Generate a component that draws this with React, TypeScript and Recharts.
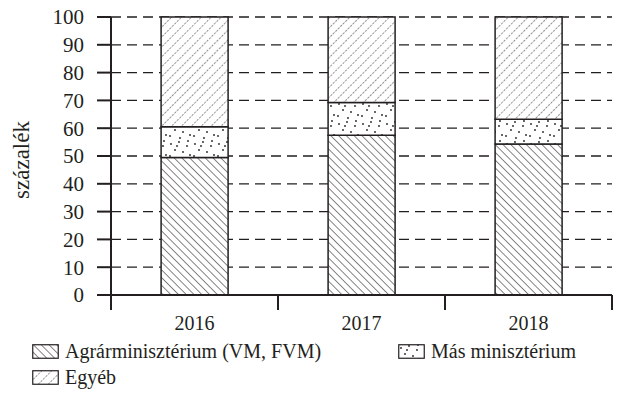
import React from 'react';
import { BarChart, Bar, XAxis, YAxis, CartesianGrid, Label } from 'recharts';

const years = ['2016', '2017', '2018'];
const agrar = [49.5, 57.5, 54.3];
const mas = [11.0, 11.7, 8.9];
const egyeb = [39.5, 30.8, 36.8];
const yTicks = [0, 10, 20, 30, 40, 50, 60, 70, 80, 90, 100];

const data = years.map((year, i) => ({
  year,
  agrar: agrar[i],
  mas: mas[i],
  egyeb: egyeb[i],
}));

const FONT = '"Liberation Serif", "Times New Roman", serif';
const INK = '#231f20';

// scattered dots for "Más minisztérium"
const dots = [
  [3, 4], [11, 2], [19, 6], [7, 10], [15, 12], [22, 15], [2, 16], [12, 18], [20, 1], [9, 6],
];

function Patterns() {
  return (
    <defs>
      <pattern id="pAgrar" width="5.5" height="5.5" patternUnits="userSpaceOnUse" patternTransform="rotate(-45)">
        <rect width="5.5" height="5.5" fill="#fff" />
        <line x1="0" y1="0" x2="0" y2="5.5" stroke={INK} strokeWidth="1.1" />
      </pattern>
      <pattern id="pEgyeb" width="7" height="7" patternUnits="userSpaceOnUse" patternTransform="rotate(45)">
        <rect width="7" height="7" fill="#fff" />
        <line x1="0" y1="0" x2="0" y2="7" stroke="#444" strokeWidth="1.2" strokeDasharray="2.2 1.3" />
      </pattern>
      <pattern id="pMas" width="24" height="20" patternUnits="userSpaceOnUse">
        <rect width="24" height="20" fill="#fff" />
        {dots.map(([cx, cy], i) => (
          <circle key={i} cx={cx} cy={cy} r="0.9" fill={INK} />
        ))}
      </pattern>
    </defs>
  );
}

function YearTick(props: any) {
  const { x, y, payload, index } = props;
  const half = payload && payload.offset ? payload.offset : 83.5;
  const last = index === years.length - 1;
  return (
    <g>
      <line x1={x - half} y1={y} x2={x - half} y2={y + 15} stroke={INK} strokeWidth={2} />
      {last && <line x1={x + half} y1={y} x2={x + half} y2={y + 15} stroke={INK} strokeWidth={2} />}
      <text x={x} y={y + 35} textAnchor="middle" fontFamily={FONT} fontSize={20} fill={INK}>
        {payload.value}
      </text>
    </g>
  );
}

function LegendBox({ fill }: { fill: string }) {
  return (
    <svg width={27} height={15} style={{ marginRight: 6, flexShrink: 0 }}>
      <Patterns />
      <rect x={0.75} y={0.75} width={25.5} height={13.5} fill={fill} stroke={INK} strokeWidth={1.2} />
    </svg>
  );
}

const legendItems = [
  { label: 'Agrárminisztérium (VM, FVM)', fill: 'url(#pAgrar)' },
  { label: 'Más minisztérium', fill: 'url(#pMas)' },
  { label: 'Egyéb', fill: 'url(#pEgyeb)' },
];

export default function App() {
  return (
    <div style={{ position: 'absolute', left: 0, top: 0, width: 619, height: 403, background: '#fff' }}>
      <BarChart
        width={619}
        height={403}
        data={data}
        margin={{ top: 17, right: 7, left: 0, bottom: 78 }}
        barCategoryGap="30%"
      >
        <Patterns />
        <CartesianGrid horizontal vertical={false} stroke={INK} strokeWidth={1.3} strokeDasharray="10 6" />
        <XAxis
          dataKey="year"
          axisLine={{ stroke: INK, strokeWidth: 2 }}
          tickLine={false}
          tickSize={0}
          tickMargin={0}
          height={30}
          tick={<YearTick />}
          interval={0}
        />
        <YAxis
          width={111}
          domain={[0, 100]}
          ticks={yTicks}
          interval={0}
          axisLine={{ stroke: INK, strokeWidth: 2 }}
          tickLine={{ stroke: INK, strokeWidth: 2 }}
          tickSize={14}
          tickMargin={13}
          tick={{ fontFamily: FONT, fontSize: 21, fill: INK }}
        >
          <Label
            content={() => (
              <text
                x={21}
                y={160}
                transform="rotate(-90, 21, 160)"
                textAnchor="middle"
                dominantBaseline="central"
                fontFamily={FONT}
                fontSize={23}
                fill={INK}
              >
                százalék
              </text>
            )}
          />
        </YAxis>
        <Bar dataKey="agrar" stackId="a" fill="url(#pAgrar)" stroke={INK} strokeWidth={1.5} isAnimationActive={false} />
        <Bar dataKey="mas" stackId="a" fill="url(#pMas)" stroke={INK} strokeWidth={1.5} isAnimationActive={false} />
        <Bar dataKey="egyeb" stackId="a" fill="url(#pEgyeb)" stroke={INK} strokeWidth={1.5} isAnimationActive={false} />
      </BarChart>
      <div
        style={{
          position: 'absolute',
          left: 32,
          top: 340,
          width: 585,
          display: 'grid',
          gridTemplateColumns: '366px auto',
          rowGap: 3,
          fontFamily: FONT,
          fontSize: 20,
          color: INK,
        }}
      >
        {legendItems.map((item) => (
          <div key={item.label} style={{ display: 'flex', alignItems: 'center', height: 23 }}>
            <LegendBox fill={item.fill} />
            <span style={{ whiteSpace: 'nowrap' }}>{item.label}</span>
          </div>
        ))}
      </div>
    </div>
  );
}
